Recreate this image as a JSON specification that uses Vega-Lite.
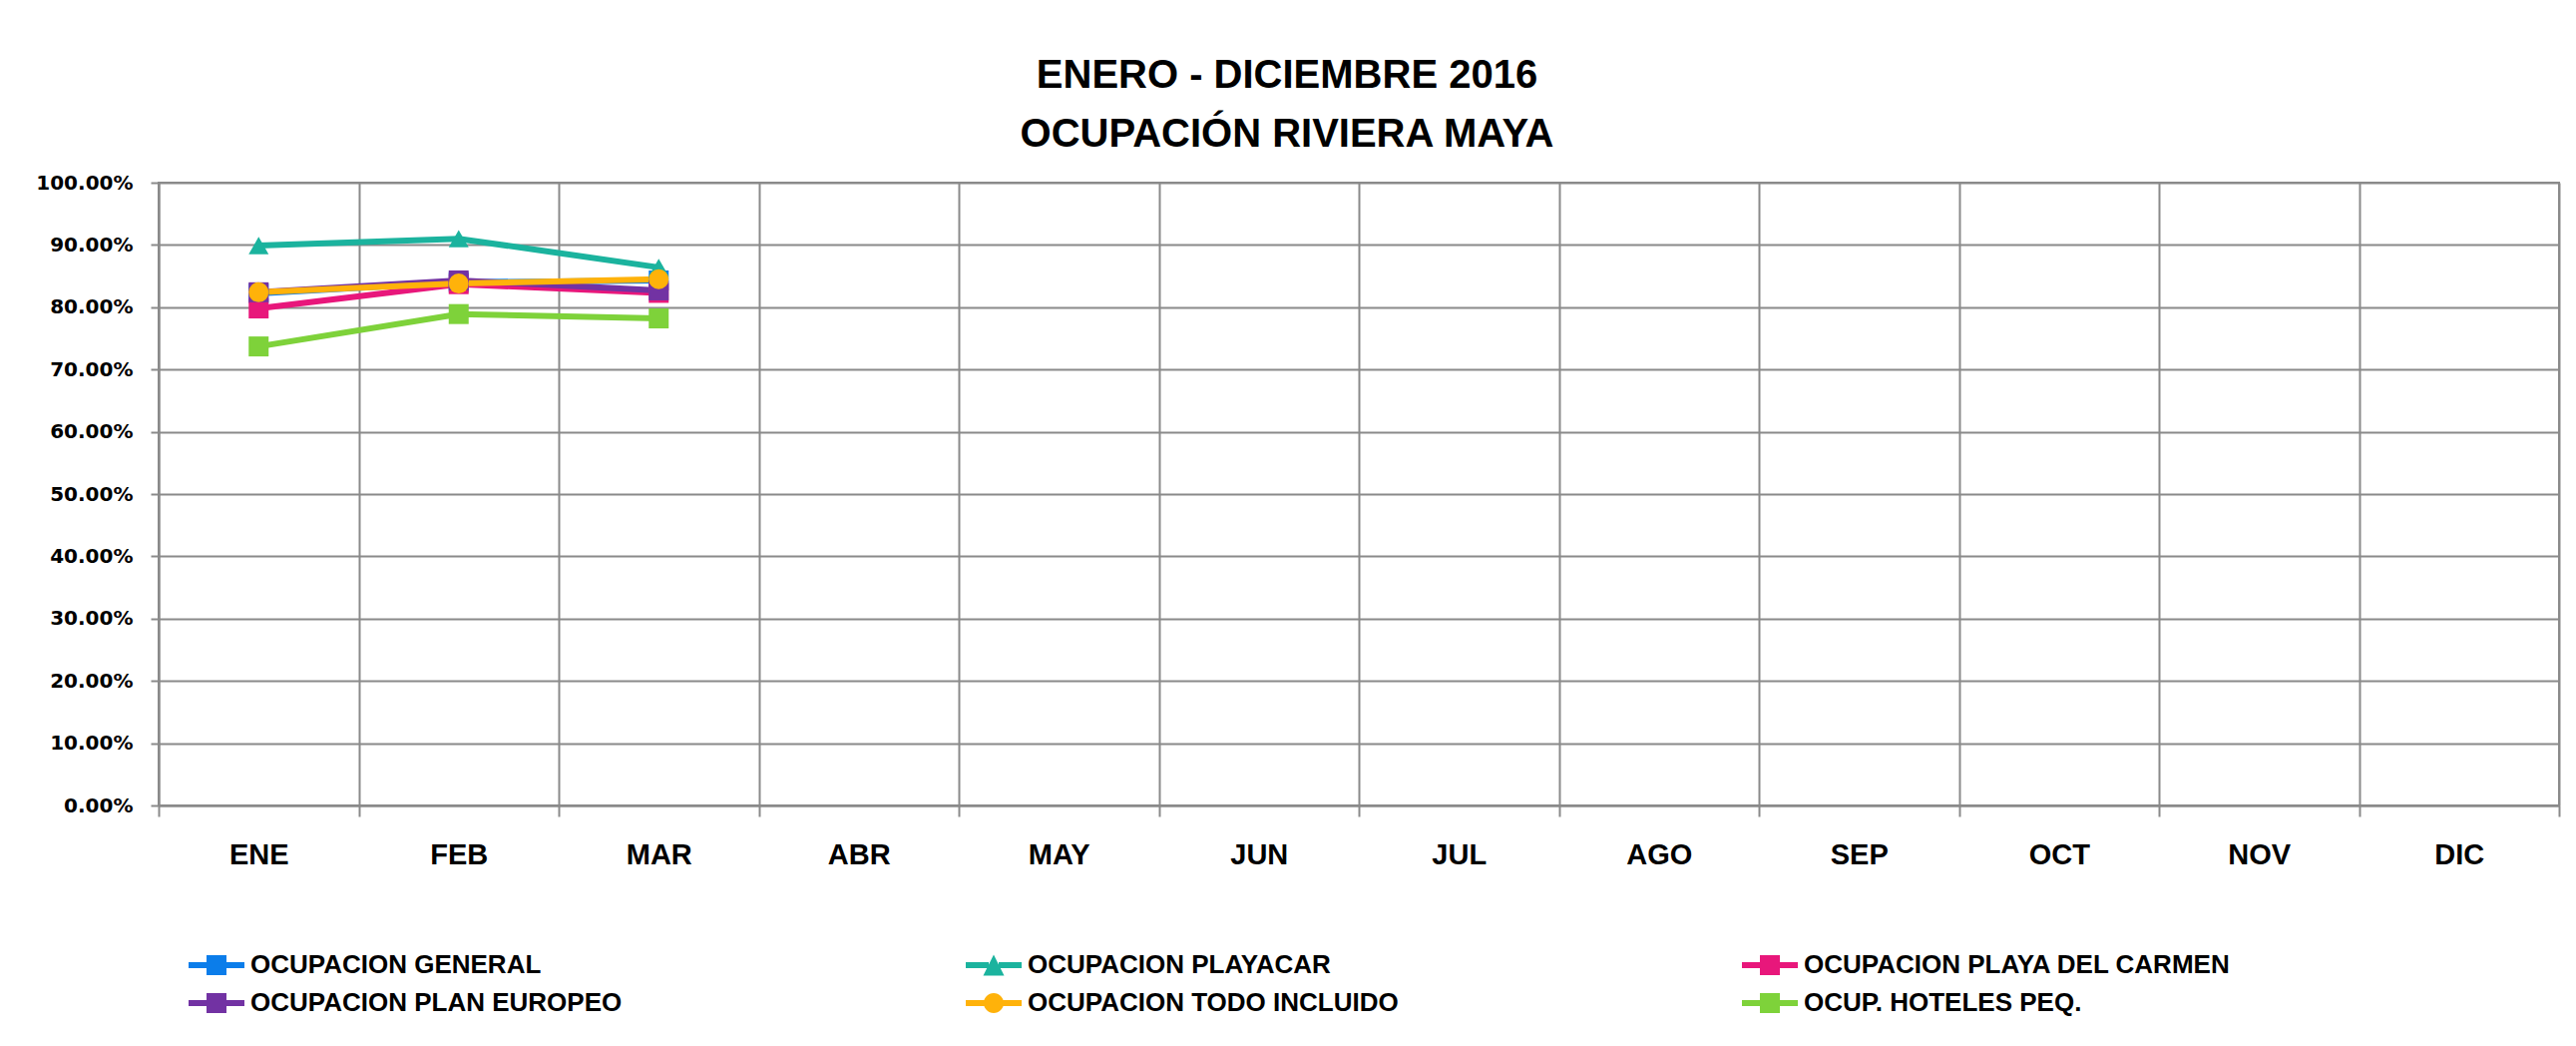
{
  "$schema": "https://vega.github.io/schema/vega-lite/v6.json",
  "width": 2406,
  "height": 624,
  "autosize": "none",
  "padding": {"left": 159, "top": 183, "right": 17, "bottom": 241},
  "background": "white",
  "title": {
    "text": ["ENERO - DICIEMBRE 2016", "OCUPACIÓN RIVIERA MAYA"],
    "font": "Liberation Sans",
    "fontSize": 40,
    "fontWeight": "bold",
    "lineHeight": 59,
    "anchor": "middle",
    "dx": -72,
    "offset": 18,
    "color": "black"
  },
  "config": {
    "view": {"stroke": "#8a8a8a", "strokeWidth": 2}
  },
  "data": {
    "values": [
      {"mes": "ENE", "serie": "OCUPACION GENERAL", "valor": 0.822},
      {"mes": "FEB", "serie": "OCUPACION GENERAL", "valor": 0.840},
      {"mes": "MAR", "serie": "OCUPACION GENERAL", "valor": 0.843},
      {"mes": "ENE", "serie": "OCUPACION PLAYACAR", "valor": 0.899},
      {"mes": "FEB", "serie": "OCUPACION PLAYACAR", "valor": 0.910},
      {"mes": "MAR", "serie": "OCUPACION PLAYACAR", "valor": 0.864},
      {"mes": "ENE", "serie": "OCUPACION PLAYA DEL CARMEN", "valor": 0.798},
      {"mes": "FEB", "serie": "OCUPACION PLAYA DEL CARMEN", "valor": 0.837},
      {"mes": "MAR", "serie": "OCUPACION PLAYA DEL CARMEN", "valor": 0.823},
      {"mes": "ENE", "serie": "OCUPACION PLAN EUROPEO", "valor": 0.824},
      {"mes": "FEB", "serie": "OCUPACION PLAN EUROPEO", "valor": 0.843},
      {"mes": "MAR", "serie": "OCUPACION PLAN EUROPEO", "valor": 0.827},
      {"mes": "ENE", "serie": "OCUPACION TODO INCLUIDO", "valor": 0.824},
      {"mes": "FEB", "serie": "OCUPACION TODO INCLUIDO", "valor": 0.838},
      {"mes": "MAR", "serie": "OCUPACION TODO INCLUIDO", "valor": 0.845},
      {"mes": "ENE", "serie": "OCUP. HOTELES PEQ.", "valor": 0.737},
      {"mes": "FEB", "serie": "OCUP. HOTELES PEQ.", "valor": 0.789},
      {"mes": "MAR", "serie": "OCUP. HOTELES PEQ.", "valor": 0.782}
    ]
  },
  "encoding": {
    "x": {
      "field": "mes",
      "type": "ordinal",
      "bandPosition": 0.5,
      "scale": {
        "type": "band",
        "domain": ["ENE", "FEB", "MAR", "ABR", "MAY", "JUN", "JUL", "AGO", "SEP", "OCT", "NOV", "DIC"],
        "paddingInner": 0,
        "paddingOuter": 0
      },
      "axis": {
        "title": null,
        "tickBand": "extent",
        "grid": true,
        "gridColor": "#8a8a8a",
        "gridWidth": 2,
        "gridOpacity": 1,
        "domainColor": "#8a8a8a",
        "domainWidth": 2,
        "tickColor": "#8a8a8a",
        "tickWidth": 2,
        "tickSize": 11,
        "labelAngle": 0,
        "labelFont": "Liberation Sans",
        "labelFontSize": 29,
        "labelFontWeight": "bold",
        "labelColor": "black",
        "labelPadding": 24
      }
    },
    "y": {
      "field": "valor",
      "type": "quantitative",
      "scale": {"domain": [0, 1], "nice": false, "zero": true},
      "axis": {
        "title": null,
        "values": [0, 0.1, 0.2, 0.3, 0.4, 0.5, 0.6, 0.7, 0.8, 0.9, 1],
        "format": ".2%",
        "grid": true,
        "gridColor": "#8a8a8a",
        "gridWidth": 2,
        "gridOpacity": 1,
        "domainColor": "#8a8a8a",
        "domainWidth": 2,
        "tickColor": "#8a8a8a",
        "tickWidth": 2,
        "tickSize": 8,
        "labelFont": "DejaVu Sans",
        "labelFontSize": 20,
        "labelFontWeight": "bold",
        "labelColor": "black",
        "labelPadding": 18
      }
    },
    "color": {
      "field": "serie",
      "type": "nominal",
      "scale": {
        "domain": ["OCUPACION GENERAL", "OCUPACION PLAYACAR", "OCUPACION PLAYA DEL CARMEN", "OCUPACION PLAN EUROPEO", "OCUPACION TODO INCLUIDO", "OCUP. HOTELES PEQ."],
        "range": ["#0B7DEA", "#1BB39E", "#E8177B", "#7232A3", "#FFB20A", "#7ED23A"]
      },
      "legend": {
        "title": null,
        "orient": "none",
        "legendX": 45,
        "legendY": 771,
        "direction": "horizontal",
        "columns": 3,
        "columnPadding": 344,
        "rowPadding": 12,
        "padding": 0,
        "symbolSize": 400,
        "symbolStrokeWidth": 0,
        "symbolOpacity": 1,
        "labelFont": "Liberation Sans",
        "labelFontSize": 26,
        "labelFontWeight": "bold",
        "labelColor": "black",
        "labelOffset": 21,
        "labelLimit": 1000
      }
    }
  },
  "layer": [
    {"mark": {"type": "line", "strokeWidth": 6}},
    {
      "transform": [{"filter": "datum.serie !== 'OCUPACION PLAYACAR' && datum.serie !== 'OCUPACION TODO INCLUIDO'"}],
      "mark": {"type": "point", "shape": "square", "filled": true, "opacity": 1, "size": 400}
    },
    {
      "transform": [{"filter": "datum.serie === 'OCUPACION PLAYACAR'"}],
      "mark": {"type": "point", "shape": "triangle-up", "filled": true, "opacity": 1, "size": 400}
    },
    {
      "transform": [{"filter": "datum.serie === 'OCUPACION TODO INCLUIDO'"}],
      "mark": {"type": "point", "shape": "circle", "filled": true, "opacity": 1, "size": 400}
    },
    {
      "mark": {"type": "point", "filled": true, "opacity": 0, "size": 400},
      "encoding": {
        "shape": {
          "field": "serie",
          "type": "nominal",
          "scale": {
            "domain": ["OCUPACION GENERAL", "OCUPACION PLAYACAR", "OCUPACION PLAYA DEL CARMEN", "OCUPACION PLAN EUROPEO", "OCUPACION TODO INCLUIDO", "OCUP. HOTELES PEQ."],
            "range": [
              "M-2.8,-0.3H-0.9V0.3H-2.8Z M0.9,-0.3H2.8V0.3H0.9Z M-1,-1H1V1H-1Z",
              "M-2.8,-0.3H-0.5V0.3H-2.8Z M0.5,-0.3H2.8V0.3H0.5Z M0,-1.05L1.05,1.05H-1.05Z",
              "M-2.8,-0.3H-0.9V0.3H-2.8Z M0.9,-0.3H2.8V0.3H0.9Z M-1,-1H1V1H-1Z",
              "M-2.8,-0.3H-0.9V0.3H-2.8Z M0.9,-0.3H2.8V0.3H0.9Z M-1,-1H1V1H-1Z",
              "M-2.8,-0.3H-0.9V0.3H-2.8Z M0.9,-0.3H2.8V0.3H0.9Z M1,0A1,1 0 1,1 -1,0A1,1 0 1,1 1,0Z",
              "M-2.8,-0.3H-0.9V0.3H-2.8Z M0.9,-0.3H2.8V0.3H0.9Z M-1,-1H1V1H-1Z"
            ]
          },
          "legend": null
        }
      }
    }
  ]
}
